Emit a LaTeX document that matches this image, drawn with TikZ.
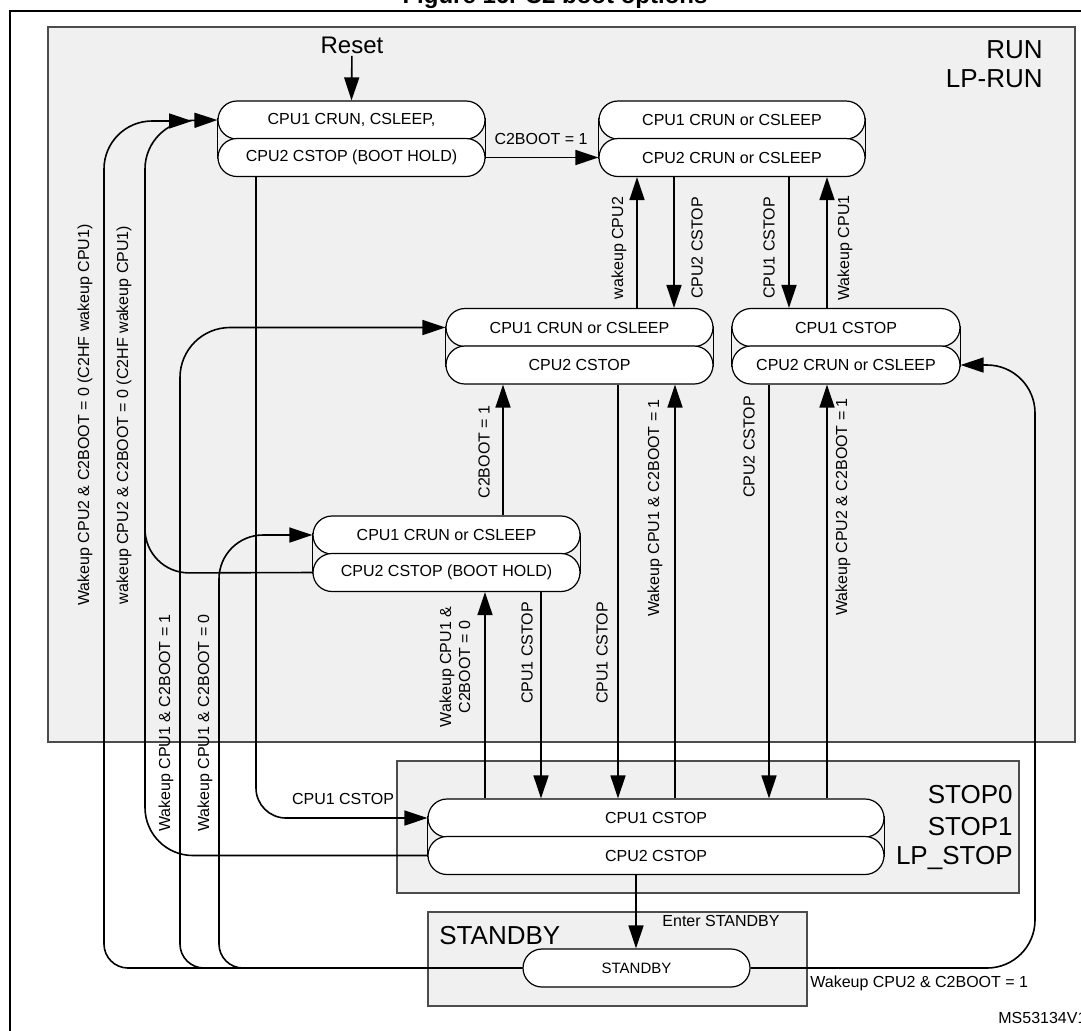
\documentclass[tikz,border=0pt]{standalone}
\usepackage{fontspec}
\setmainfont{Liberation Sans}
\usetikzlibrary{arrows.meta}
\begin{document}
\begin{tikzpicture}[x=0.5pt,y=-0.5pt,
  row/.style={draw,line width=0.6pt,fill=white,rounded corners=9.5pt,minimum height=19pt,inner sep=0pt,font=\fontsize{8}{9}\selectfont},
  region/.style={draw=black!70,line width=0.6pt,fill=black!6},
  arr/.style={line width=0.8pt,-{Triangle[length=11.5pt,width=7.5pt]}},
  ln/.style={line width=0.8pt},
  lbl/.style={font=\fontsize{8}{9.5}\selectfont,inner sep=0pt,align=center},
  vl/.style={lbl,rotate=90},
  big/.style={font=\fontsize{13}{15}\selectfont,inner sep=0pt}]
\useasboundingbox (0,0) rectangle (1081,1030);
\newcommand{\dbox}[6]{%
  \node[row,minimum width=#4pt] (#1a) at (#2,#3) {#5};
  \node[row,minimum width=#4pt] (#1b) at (#2,#3+37.5) {#6};
  \draw[line width=0.4pt] ([yshift=-9pt]#1a.north west) -- ([yshift=9pt]#1b.south west);
  \draw[line width=0.4pt] ([yshift=-9pt]#1a.north east) -- ([yshift=9pt]#1b.south east);}
% title and frame
\node[font=\bfseries\fontsize{12}{14}\selectfont,anchor=base] (title) at (555,3) {Figure 16. C2 boot options};
\draw[line width=1pt] (10,11) rectangle (1095,1045);
% regions
\draw[region] (48,27) rectangle (1075,742);
\draw[region] (397,761) rectangle (1019,893);
\draw[region] (428,912) rectangle (807,1006);
\node[big,anchor=east] (run) at (1043,50) {RUN};
\node[big,anchor=east] (lprun) at (1043,79) {LP-RUN};
\node[big,anchor=east] (s0) at (1013,795) {STOP0};
\node[big,anchor=east] (s1) at (1013,827) {STOP1};
\node[big,anchor=east] (s2) at (1013,858) {LP\_STOP};
\node[big,anchor=west] (sbl) at (439,936) {STANDBY};
% boxes
\dbox{A}{351.5}{120}{133.5}{CPU1 CRUN, CSLEEP,}{CPU2 CSTOP (BOOT HOLD)}
\dbox{B}{732}{120}{133}{CPU1 CRUN or CSLEEP}{CPU2 CRUN or CSLEEP}
\dbox{C}{579.5}{327.5}{133.5}{CPU1 CRUN or CSLEEP}{CPU2 CSTOP}
\dbox{E}{846}{327.5}{114}{CPU1 CSTOP}{CPU2 CRUN or CSLEEP}
\dbox{D}{446.5}{535}{133.5}{CPU1 CRUN or CSLEEP}{CPU2 CSTOP (BOOT HOLD)}
\dbox{S}{656}{818}{228}{CPU1 CSTOP}{CPU2 CSTOP}
\node[row,minimum width=113.5pt,font=\fontsize{7.5}{9}\selectfont] (SB) at (636.5,968) {STANDBY};
% reset
\node[font=\fontsize{12}{14}\selectfont,inner sep=1pt] (reset) at (352,45) {Reset};
\draw[arr] (reset) -- (Aa.north);
% A -> B
\draw[arr] (Ab.east) -- (Bb.west);
\node[lbl] (l1) at (541,139) {C2BOOT = 1};
% B <-> C, B <-> E
\draw[arr] (Ca.north -| 637,0) -- (Bb.south -| 637,0);
\node[vl] (l2) at (619,248) {wakeup CPU2};
\draw[arr] (Bb.south -| 674,0) -- (Ca.north -| 674,0);
\node[vl] (l3) at (697,248) {CPU2 CSTOP};
\draw[arr] (Bb.south -| 789,0) -- (Ea.north -| 789,0);
\node[vl] (l4) at (769,248) {CPU1 CSTOP};
\draw[arr] (Ea.north -| 827,0) -- (Bb.south -| 827,0);
\node[vl] (l5) at (845,248) {Wakeup CPU1};
% D -> C
\draw[arr] (Da.north -| 503,0) -- (Cb.south -| 503,0);
\node[vl] (l6) at (484,452) {C2BOOT = 1};
% STOP <-> D
\draw[arr] (Sa.north -| 485,0) -- (Db.south -| 485,0);
\node[vl] (l7) at (455,667) {Wakeup CPU1 \&\\C2BOOT = 0};
\draw[arr] (Db.south -| 541,0) -- (Sa.north -| 541,0);
\node[vl] (l8) at (527,653) {CPU1 CSTOP};
% STOP <-> C
\draw[arr] (Cb.south -| 618,0) -- (Sa.north -| 618,0);
\node[vl] (l9) at (602,653) {CPU1 CSTOP};
\draw[arr] (Sa.north -| 675,0) -- (Cb.south -| 675,0);
\node[vl] (l10) at (655,508) {Wakeup CPU1 \& C2BOOT = 1};
% STOP <-> E
\draw[arr] (Eb.south -| 769,0) -- (Sa.north -| 769,0);
\node[vl] (l11) at (749,447) {CPU2 CSTOP};
\draw[arr] (Sa.north -| 827,0) -- (Eb.south -| 827,0);
\node[vl] (l12) at (843,507) {Wakeup CPU2 \& C2BOOT = 1};
% STOP -> STANDBY
\draw[arr] (Sb.south -| 636,0) -- (SB.north -| 636,0);
\node[lbl] (l13) at (721,921) {Enter STANDBY};
% A -> STOP
\draw[arr,rounded corners=15pt] (Ab.south -| 256,0) -- (256,818) -- (Sa.west);
\node[lbl] (l14) at (343,799) {CPU1 CSTOP};
% left return lines
\draw[arr,rounded corners=12pt] (SB.west) -- (104,968) [rounded corners=24pt] -- (104,121) -- (192,121);
\node[vl] (l15) at (85,415) {Wakeup CPU2 \& C2BOOT = 0 (C2HF wakeup CPU1)};
\draw[arr,rounded corners=24pt] (Sb.west) -- (145,855.5) -- (145,121) -- (Aa.west);
\draw[ln,rounded corners=22pt] (Db.west) -- (145,573) -- (145,510);
\node[vl] (l16) at (124,415) {wakeup CPU2 \& C2BOOT = 0 (C2HF wakeup CPU1)};
\draw[arr,rounded corners=12pt] (SB.west) -- (180,968) [rounded corners=25pt] -- (180,327.5) -- (Ca.west);
\node[vl] (l17) at (166,723) {Wakeup CPU1 \& C2BOOT = 1};
\draw[arr,rounded corners=12pt] (SB.west) -- (219,968) [rounded corners=22pt] -- (219,535) -- (Da.west);
\node[vl] (l18) at (205,723) {Wakeup CPU1 \& C2BOOT = 0};
% right return
\draw[arr,rounded corners=24pt] (SB.east) -- (1035,968) -- (1035,365) -- (Eb.east);
\node[lbl,anchor=west] (l19) at (810,983) {Wakeup CPU2 \& C2BOOT = 1};
\node[lbl,anchor=west] (ms) at (998,1018) {MS53134V1};
\end{tikzpicture}
\end{document}
